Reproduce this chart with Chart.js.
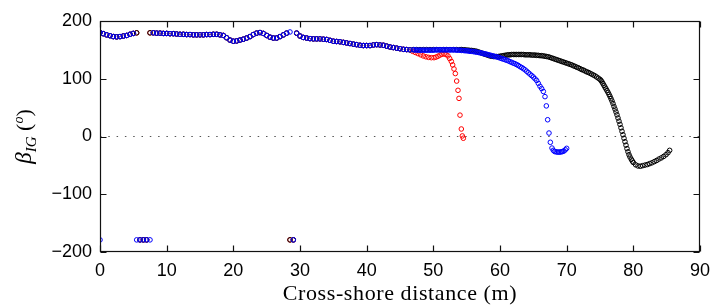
<!DOCTYPE html>
<html>
<head>
<meta charset="utf-8">
<script src="https://cdn.jsdelivr.net/npm/chart.js@4"></script>
<style>
  html, body { margin: 0; padding: 0; background: #fff; }
  #wrap { width: 718px; height: 308px; }
</style>
</head>
<body>
<div id="wrap"><canvas id="chart" width="718" height="308"></canvas></div>
<script>
// Ticks
const xTicks = [0, 10, 20, 30, 40, 50, 60, 70, 80, 90];
const yTicks = [-200, -100, 0, 100, 200];

// Offshore part, common to the three runs
const offshoreX = [
  0, 0.5, 1, 1.5, 2, 2.5, 3, 3.5, 4, 4.5, 5,
  8, 8.5, 9, 9.5, 10, 10.5, 11, 11.5, 12, 12.5, 13, 13.5, 14, 14.5, 15, 15.5, 16, 16.5, 17, 17.5,
  18, 18.5, 19, 19.5, 20, 20.5, 21, 21.5, 22, 22.5, 23, 23.5, 24, 24.5, 25, 25.5, 26, 26.5, 27, 27.5, 28,
  29.5, 30, 30.5, 31, 31.5, 32, 32.5, 33, 33.5, 34, 34.5, 35, 35.5, 36, 36.5, 37, 37.5, 38, 38.5,
  39, 39.5, 40, 40.5, 41, 41.5, 42, 42.5, 43, 43.5, 44, 44.5, 45, 45.5, 46, 46.5
];
const offshoreY = [
  180, 178, 176, 174.5, 173, 172.5, 173, 174, 175, 177, 178.5,
  179.5, 179, 179, 178.5, 178.5, 178, 178, 177.5, 177, 177, 176.5, 176.5, 176, 176, 176, 176, 176.5, 176.5, 177, 177,
  176, 175, 171, 167, 165, 165.5, 167, 168.5, 170.5, 173, 176.5, 179, 180, 178.5, 175, 172, 170.5, 170.5, 173, 176, 179,
  179, 174, 171.5, 170.5, 169.5, 169, 169, 169, 168.5, 168, 166.5, 165, 164.5, 164, 163, 162, 161, 160, 159,
  158, 157.5, 157.5, 157.5, 158.5, 159, 158.5, 158, 156.5, 155, 154, 153, 152, 151, 150.5, 150
];

// Wrapped angles (near +/-180)
const blueWrapX = [0, 5.5, 6, 6.5, 7, 7.5, 28.5, 29];
const blueWrapY = [-179, -179, -179, -179, -179, -179, 181, -179];
const redWrapX = [5.5, 6, 6.5, 7, 7.5, 28.5, 29];
const redWrapY = [179.5, -179, -179, -179, 179.5, -179, -179];
const blackWrapX = [5.5, 6, 6.5, 7, 7.5, 28.5, 29];
const blackWrapY = [179.5, -179, -179, -179, 179.5, -179, -179];

// Nearshore part, red run
const redX = [
  46.9, 47.3, 47.7, 48.1, 48.5, 48.9, 49.3, 49.7, 50.1, 50.4, 50.7, 51, 51.3, 51.6, 51.9, 52.2,
  52.45, 52.7, 52.9, 53.1, 53.3, 53.5, 53.7, 53.85, 54, 54.2, 54.35, 54.5
];
const redY = [
  147.5, 145.5, 143.5, 141.5, 139.5, 138, 137, 136.5, 136.5, 137.5, 139, 141, 142.5, 143, 142, 139.5,
  135, 130, 124, 117, 109, 96, 80, 66, 37, 13, 1, -3
];

// Nearshore part, blue run
const blueX = [
  47, 47.25, 47.5, 47.75, 48, 48.25, 48.5, 48.75, 49, 49.25, 49.5, 49.75, 50, 50.25, 50.5, 50.75,
  51, 51.25, 51.5, 51.75, 52, 52.25, 52.5, 52.75, 53, 53.25, 53.5, 53.75, 54, 54.25, 54.5, 54.75,
  55, 55.25, 55.5, 55.75, 56, 56.25, 56.5, 56.75, 57, 57.25, 57.5, 57.75, 58, 58.25, 58.5, 58.75,
  59, 59.25, 59.5, 59.75, 60, 60.25, 60.5, 60.75, 61, 61.25, 61.5, 61.75, 62, 62.25, 62.5, 62.75,
  63, 63.25, 63.5, 63.75, 64, 64.25, 64.5, 64.75, 65, 65.25, 65.5, 65.75, 66, 66.25, 66.5,
  66.75, 66.95, 67.15, 67.35, 67.55, 67.8, 68, 68.2, 68.4, 68.6, 68.8, 69, 69.2, 69.4, 69.6, 69.8, 70
];
const blueY = [
  150, 150, 149.5, 149.5, 149.5, 149.5, 149.5, 149.5, 149.5, 149.5, 149.5, 149.5, 149.5, 150, 150, 150,
  150, 150, 150, 150, 150, 150, 150, 150, 150, 150, 149.5, 149.5, 149.5, 149, 149, 148.5,
  148.5, 148, 147.5, 147.5, 147, 146.5, 146, 145.5, 145, 144.5, 143.5, 143, 142.5, 141.5, 141, 140,
  139.5, 138.5, 138, 137, 136, 135, 134, 133, 132, 131, 129.5, 128.5, 127, 126, 124.5, 123,
  121, 119.5, 117.5, 115.5, 113, 110.5, 108, 105.5, 103, 100, 97, 92, 87, 83, 78,
  69, 53, 29, 6, -10, -20, -24, -26, -26.5, -27, -27, -27, -26.5, -26, -25, -23, -20.5
];

// Nearshore part, black run
const blackX = [
  47, 47.5, 48, 48.5, 49, 49.5, 50, 50.5, 51, 51.5, 52, 52.5, 53, 53.5, 54, 54.25, 54.5, 54.75,
  55, 55.25, 55.5, 55.75, 56, 56.25, 56.5, 56.75, 57, 57.25, 57.5, 57.75, 58, 58.25, 58.5, 58.75,
  59, 59.25, 59.5, 59.75, 60, 60.25, 60.5, 60.75, 61, 61.25, 61.5, 61.75, 62, 62.25, 62.5, 62.75,
  63, 63.25, 63.5, 63.75, 64, 64.25, 64.5, 64.75, 65, 65.25, 65.5, 65.75, 66, 66.25, 66.5, 66.75,
  67, 67.25, 67.5, 67.75, 68, 68.25, 68.5, 68.75, 69, 69.25, 69.5, 69.75, 70, 70.25, 70.5, 70.75,
  71, 71.25, 71.5, 71.75, 72, 72.25, 72.5, 72.75, 73, 73.25, 73.5, 73.75, 74, 74.25, 74.5, 74.75,
  75, 75.15, 75.3, 75.45, 75.6, 75.75, 75.9, 76.05, 76.2, 76.35, 76.5, 76.65, 76.8, 76.95,
  77.1, 77.25, 77.4, 77.55, 77.7, 77.85, 78, 78.15, 78.3, 78.45, 78.6, 78.75, 78.9, 79.05, 79.2,
  79.35, 79.5, 79.7, 79.85, 80, 80.35, 80.7, 81.05, 81.4, 81.75, 82.1, 82.45, 82.8, 83.15, 83.5,
  83.85, 84.2, 84.55, 84.9, 85.2, 85.45
];
const blackY = [
  150.5, 150.5, 150.5, 150.5, 150.5, 150.5, 150.5, 150.5, 150.5, 150.5, 150.5, 150.5, 150.5, 150.5, 150.5, 150.5, 150, 150,
  149.5, 149.5, 149, 149, 148.5, 148, 147.5, 146.5, 145.5, 144.5, 143.5, 142.5, 141.5, 140.5, 139.5, 139,
  138.5, 138.5, 138.5, 138.5, 139, 139.5, 140, 140.5, 141, 141.5, 141.5, 142, 142, 142, 142, 142,
  142, 142, 142, 141.5, 141.5, 141.5, 141.5, 141, 141, 141, 140.5, 140.5, 140, 140, 139.5, 139,
  138.5, 138, 137, 136, 135, 134, 133, 132, 131, 130, 129, 128, 127, 126, 125, 124,
  122.5, 121.5, 120, 119, 117.5, 116, 115, 113.5, 112, 111, 109.5, 108, 106.5, 105, 103, 101,
  99, 97, 94.5, 91.5, 88.5, 85.5, 82.5, 79.5, 76.5, 73, 69.5, 65.5, 61.5, 57,
  52, 47.5, 42.5, 37.5, 32, 26.5, 21, 15, 9, 3, -3, -9, -15, -21, -26.5,
  -31.5, -35.5, -39.5, -42.5, -45, -49, -51, -51.5, -50.5, -49.5, -48.5, -47, -45.5, -43.5, -41.5,
  -39, -37, -34.5, -31.5, -28, -24
];

// Dotted zero line
const zeroLineX = [0, 90];
const zeroLineY = [0, 0];

function toPoints(xs, ys) {
  return xs.map((x, i) => ({ x: x, y: ys[i] }));
}

const offshore = toPoints(offshoreX, offshoreY);
const redData = offshore.concat(toPoints(redWrapX, redWrapY), toPoints(redX, redY));
const blueData = offshore.concat(toPoints(blueWrapX, blueWrapY), toPoints(blueX, blueY));
const blackData = offshore.concat(toPoints(blackWrapX, blackWrapY), toPoints(blackX, blackY));

const tickFont = "'Liberation Sans', Arial, sans-serif";
const serifFont = "'Liberation Serif', 'DejaVu Serif', serif";

function circleSet(label, data, color, order) {
  return {
    label: label,
    data: data,
    showLine: false,
    pointStyle: 'circle',
    pointRadius: 2.3,
    pointBorderWidth: 1,
    pointBackgroundColor: 'rgba(0,0,0,0)',
    pointBorderColor: color,
    borderColor: color,
    order: order
  };
}

// Box, inward ticks and axis titles, MATLAB style
const frame = {
  id: 'frame',
  afterDraw(chart) {
    const ctx = chart.ctx;
    const a = chart.chartArea;
    const xs = chart.scales.x, ys = chart.scales.y;
    const L = Math.round(a.left) + 0.5, R = Math.round(a.right) - 0.5;
    const T = Math.round(a.top) + 0.5, B = Math.round(a.bottom) - 0.5;
    ctx.save();
    ctx.strokeStyle = '#111';
    ctx.lineWidth = 1.2;
    ctx.strokeRect(L, T, R - L, B - T);
    ctx.beginPath();
    xTicks.forEach(v => {
      const p = Math.round(xs.getPixelForValue(v)) + 0.5;
      ctx.moveTo(p, B); ctx.lineTo(p, B - 6);
      ctx.moveTo(p, T); ctx.lineTo(p, T + 6);
    });
    yTicks.forEach(v => {
      const p = Math.round(ys.getPixelForValue(v)) + 0.5;
      ctx.moveTo(L, p); ctx.lineTo(L + 6, p);
      ctx.moveTo(R, p); ctx.lineTo(R - 6, p);
    });
    ctx.stroke();

    // x title
    ctx.fillStyle = '#000';
    ctx.font = '22px ' + serifFont;
    ctx.letterSpacing = '0.6px';
    ctx.textAlign = 'center';
    ctx.textBaseline = 'alphabetic';
    ctx.fillText('Cross-shore distance (m)', (a.left + a.right) / 2, 300);
    ctx.letterSpacing = '0px';

    // y title: beta_IG (o)
    const parts = [
      { t: '\u03B2', f: 'italic 23px ' + serifFont, dy: 0 },
      { t: 'IG', f: 'italic 15px ' + serifFont, dy: 5 },
      { t: ' (', f: '22px ' + serifFont, dy: 0 },
      { t: 'o', f: 'italic 14px ' + serifFont, dy: -8 },
      { t: ')', f: '22px ' + serifFont, dy: 0 }
    ];
    let total = 0;
    parts.forEach(p => { ctx.font = p.f; p.w = ctx.measureText(p.t).width; total += p.w; });
    ctx.translate(31, (a.top + a.bottom) / 2);
    ctx.rotate(-Math.PI / 2);
    ctx.textAlign = 'left';
    let x = -total / 2;
    parts.forEach(p => {
      ctx.font = p.f;
      ctx.fillText(p.t, x, p.dy);
      x += p.w;
    });
    ctx.restore();
  }
};

new Chart(document.getElementById('chart').getContext('2d'), {
  type: 'scatter',
  data: {
    datasets: [
      circleSet('run 3', blueData, '#0000ff', 1),
      circleSet('run 2', blackData, '#000000', 2),
      circleSet('run 1', redData, '#ff0000', 3),
      {
        type: 'line',
        label: 'zero',
        data: toPoints(zeroLineX, zeroLineY),
        borderColor: '#555555',
        borderWidth: 1,
        borderDash: [1.5, 6.8],
        pointRadius: 0,
        fill: false,
        order: 4
      }
    ]
  },
  options: {
    responsive: false,
    animation: false,
    devicePixelRatio: 1,
    layout: { padding: { top: 21, right: 12, left: 0, bottom: 0 } },
    plugins: {
      legend: { display: false },
      tooltip: { enabled: false }
    },
    scales: {
      x: {
        type: 'linear',
        min: 0,
        max: 90,
        afterBuildTicks: s => { s.ticks = xTicks.map(v => ({ value: v })); },
        afterFit: s => { s.height = 56; },
        grid: { display: false, drawTicks: false },
        border: { display: false },
        ticks: {
          color: '#000',
          padding: 8,
          autoSkip: false,
          maxRotation: 0,
          font: { family: tickFont, size: 18 }
        }
      },
      y: {
        type: 'linear',
        min: -200,
        max: 200,
        afterBuildTicks: s => { s.ticks = yTicks.map(v => ({ value: v })); },
        afterFit: s => { s.width = 100; },
        grid: { display: false, drawTicks: false },
        border: { display: false },
        ticks: {
          color: '#000',
          padding: 8,
          font: { family: tickFont, size: 18 },
          callback: v => String(v).replace('-', '\u2212')
        }
      }
    }
  },
  plugins: [frame]
});
</script>
</body>
</html>
